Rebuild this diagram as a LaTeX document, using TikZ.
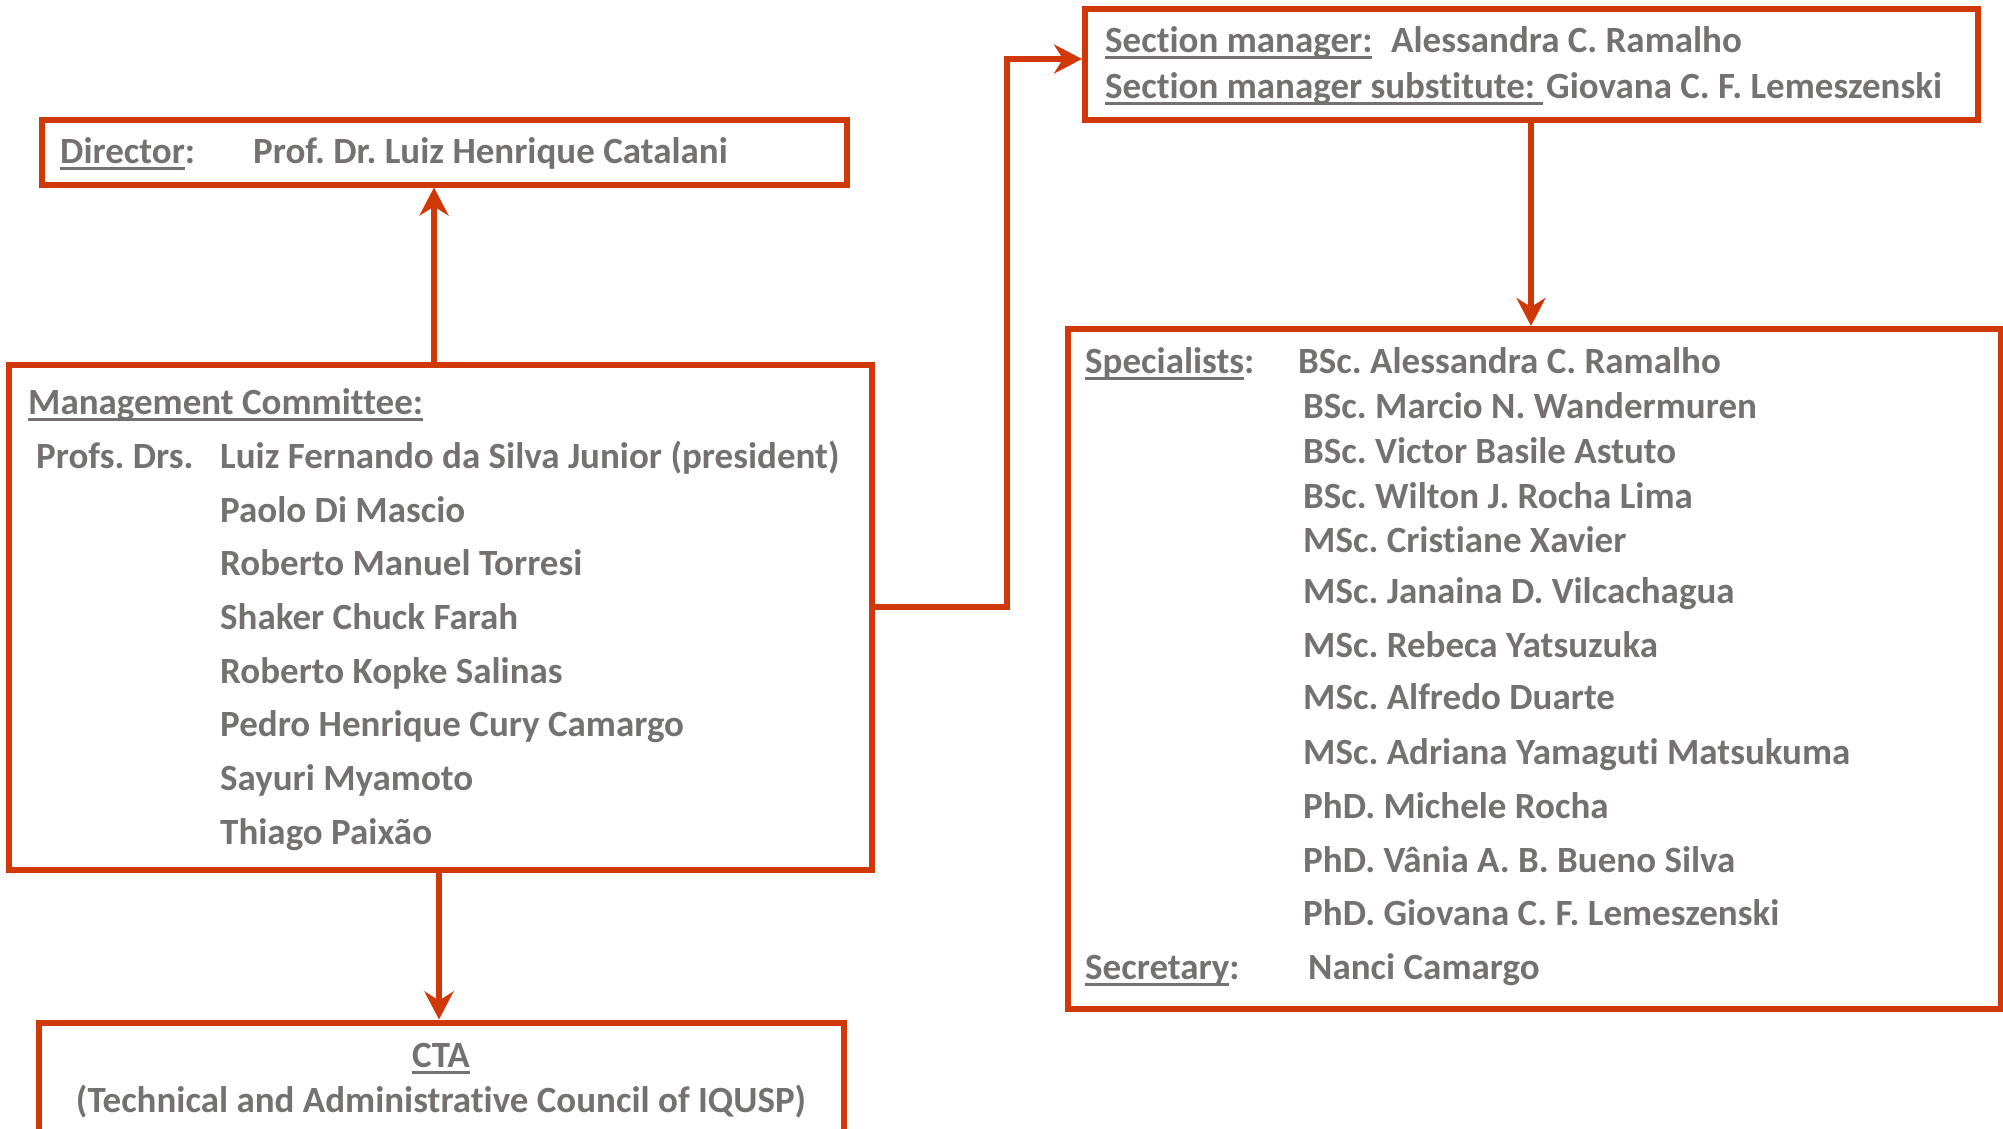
\documentclass[tikz,border=0pt]{standalone}
\usepackage{fontspec}
\setmainfont[RawFeature={-liga,-calt,-dlig,-clig}]{Carlito}
\usetikzlibrary{arrows.meta}
\definecolor{boxred}{RGB}{208,56,8}
\definecolor{txtgray}{RGB}{118,113,113}
\newcommand\ulin[1]{\leavevmode\setbox0\hbox{#1}\rlap{\rule[-7pt]{\wd0}{3pt}}\box0}
\begin{document}
\frenchspacing
\begin{tikzpicture}[x=1pt,y=-1pt,
  frame/.style={draw=boxred,line width=6pt,fill=none},
  conn/.style={draw=boxred,line width=6pt,-{Stealth[length=28pt,width=29pt,inset=9pt]}},
  txt/.style={anchor=base west,inner sep=0pt,text=txtgray,font=\fontsize{37}{44}\selectfont\bfseries},
  ctxt/.style={anchor=base,inner sep=0pt,text=txtgray,font=\fontsize{37}{44}\selectfont\bfseries}]
\useasboundingbox (0,0) rectangle (2003,1128);
% boxes
\node[frame,inner sep=0pt,minimum width=805pt,minimum height=65pt,anchor=north west] (dir) at (38.5,116.5) {};
\node[frame,inner sep=0pt,minimum width=863pt,minimum height=505pt,anchor=north west] (mc) at (5.5,361.5) {};
\node[frame,inner sep=0pt,minimum width=805pt,minimum height=118pt,anchor=north west] (cta) at (35.5,1019.5) {};
\node[frame,inner sep=0pt,minimum width=893pt,minimum height=111pt,anchor=north west] (sec) at (1082,6) {};
\node[frame,inner sep=0pt,minimum width=933pt,minimum height=680pt,anchor=north west] (spec) at (1065,326) {};
% connectors
\coordinate (bend1) at (1007,607);
\coordinate (bend2) at (1007,59);
\draw[conn] (mc.north -| 434,0) -- (dir.south -| 434,0);
\draw[conn] (mc.south -| 439,0) -- (cta.north -| 439,0);
\draw[conn] (mc.east |- bend1) -- (bend1) -- (bend2) -- (sec.west |- bend2);
\draw[conn] (sec.south -| 1531,0) -- (spec.north -| 1531,0);
% director
\node[txt] (t1) at (60,163) {\ulin{Director}:};
\node[txt] (t2) at (253,163) {Prof. Dr. Luiz Henrique Catalani};
% section manager
\node[txt] (t3) at (1105,52) {\ulin{Section manager:}};
\node[txt] (t4) at (1391,52) {Alessandra C. Ramalho};
\node[txt] (t5) at (1105,98) {\ulin{Section manager substitute:\ }};
\node[txt] (t6) at (1546,98) {Giovana C. F. Lemeszenski};
% management committee
\node[txt] (m0) at (28,414) {\ulin{Management Committee:}};
\node[txt] (m1) at (36,468) {Profs. Drs.};
\node[txt] (n1) at (220,468) {Luiz Fernando da Silva Junior (president)};
\node[txt] (n2) at (220,522) {Paolo Di Mascio};
\node[txt] (n3) at (220,575) {Roberto Manuel Torresi};
\node[txt] (n4) at (220,629) {Shaker Chuck Farah};
\node[txt] (n5) at (220,683) {Roberto Kopke Salinas};
\node[txt] (n6) at (220,736) {Pedro Henrique Cury Camargo};
\node[txt] (n7) at (220,790) {Sayuri Myamoto};
\node[txt] (n8) at (220,844) {Thiago Paixão};
% CTA
\node[ctxt] (c1) at (441,1067) {\ulin{CTA}};
\node[ctxt] (c2) at (441,1112) {(Technical and Administrative Council of IQUSP)};
% specialists
\node[txt] (s0) at (1085,373) {\ulin{Specialists}:};
\node[txt] (s1) at (1298,373) {BSc. Alessandra C. Ramalho};
\node[txt] (s2) at (1303,418) {BSc. Marcio N. Wandermuren};
\node[txt] (s3) at (1303,463) {BSc. Victor Basile Astuto};
\node[txt] (s4) at (1303,508) {BSc. Wilton J. Rocha Lima};
\node[txt] (s5) at (1303,552) {MSc. Cristiane Xavier};
\node[txt] (s6) at (1303,603) {MSc. Janaina D. Vilcachagua};
\node[txt] (s7) at (1303,657) {MSc. Rebeca Yatsuzuka};
\node[txt] (s8) at (1303,709) {MSc. Alfredo Duarte};
\node[txt] (s9) at (1303,764) {MSc. Adriana Yamaguti Matsukuma};
\node[txt] (s10) at (1303,818) {PhD. Michele Rocha};
\node[txt] (s11) at (1303,872) {PhD. Vânia A. B. Bueno Silva};
\node[txt] (s12) at (1303,925) {PhD. Giovana C. F. Lemeszenski};
\node[txt] (s13) at (1085,979) {\ulin{Secretary}:};
\node[txt] (s14) at (1308,979) {Nanci Camargo};
\end{tikzpicture}
\end{document}
